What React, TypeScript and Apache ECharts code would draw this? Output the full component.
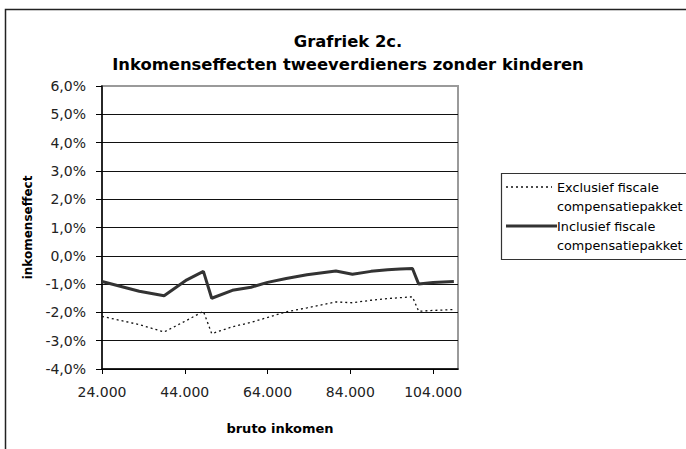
import React, { useEffect, useRef } from "react";
import * as echarts from "echarts";

const titleLines = ["Grafriek 2c.", "Inkomenseffecten tweeverdieners zonder kinderen"];
const xAxisName = "bruto inkomen";
const yAxisName = "inkomenseffect";
const seriesNames = ["Exclusief fiscale\ncompensatiepakket", "Inclusief fiscale\ncompensatiepakket"];

const incomes = [24000, 33000, 39000, 44500, 48500, 50500, 55500, 60000, 64000, 68500, 73500, 80500, 84500, 89000, 93000, 96000, 99000, 100500, 104000, 109000];
const exclusief = [-2.14, -2.43, -2.69, -2.28, -1.96, -2.75, -2.51, -2.35, -2.18, -1.98, -1.84, -1.63, -1.66, -1.57, -1.51, -1.48, -1.45, -1.96, -1.93, -1.90];
const inclusief = [-0.91, -1.25, -1.41, -0.85, -0.55, -1.50, -1.22, -1.11, -0.94, -0.80, -0.67, -0.54, -0.65, -0.55, -0.49, -0.47, -0.45, -1.00, -0.94, -0.91];

const xTicks = [24000, 44000, 64000, 84000, 104000];
const xMin = 24000;
const xMax = 110000;
const yMin = -4;
const yMax = 6;
const yStep = 1;

const FONT = "DejaVu Sans";

function fmtThousands(v: number) {
  return String(Math.round(v)).replace(/\B(?=(\d{3})+(?!\d))/g, ".");
}

export default function App() {
  const ref = useRef<HTMLDivElement>(null);

  useEffect(() => {
    if (!ref.current) return;
    const chart = echarts.init(ref.current, null, { renderer: "svg" });
    const option: any = {
      animation: false,
      backgroundColor: "#ffffff",
      title: {
        text: titleLines.join("\n"),
        left: 343,
        top: 25,
        textAlign: "center",
        textStyle: {
          fontFamily: FONT,
          fontWeight: "bold",
          fontSize: 16.4,
          lineHeight: 23,
          color: "#000",
        },
      },
      grid: {
        left: 102,
        top: 86,
        right: 686 - 458,
        bottom: 449 - 369,
        show: true,
        borderColor: "#9a9a9a",
        borderWidth: 2,
        backgroundColor: "#fff",
      },
      xAxis: {
        type: "value",
        min: xMin,
        max: xMax,
        name: xAxisName,
        nameLocation: "middle",
        nameGap: 53,
        nameTextStyle: { fontFamily: FONT, fontWeight: "bold", fontSize: 13, color: "#000" },
        axisLine: { show: true, onZero: false, lineStyle: { color: "#000", width: 1.5 } },
        axisTick: { show: true, length: 5, customValues: xTicks, lineStyle: { color: "#000" } },
        axisLabel: {
          customValues: xTicks,
          margin: 16,
          fontFamily: FONT,
          fontSize: 14,
          color: "#222",
          formatter: (v: number) => fmtThousands(v),
        },
        splitLine: { show: false },
      },
      yAxis: {
        type: "value",
        min: yMin,
        max: yMax,
        interval: yStep,
        name: yAxisName,
        nameLocation: "middle",
        nameRotate: 90,
        nameGap: 62,
        nameTextStyle: { fontFamily: FONT, fontWeight: "bold", fontSize: 12, color: "#000" },
        axisLine: { show: true, onZero: false, lineStyle: { color: "#000", width: 1.5 } },
        axisTick: { show: true, length: 6, lineStyle: { color: "#000" } },
        axisLabel: {
          margin: 16,
          fontFamily: FONT,
          fontSize: 14,
          color: "#222",
          formatter: (v: number) => v.toFixed(1).replace(".", ",") + "%",
        },
        splitLine: { show: true, showMaxLine: false, lineStyle: { color: "#111", width: 1 } },
      },
      series: [
        {
          name: seriesNames[0],
          type: "line",
          data: incomes.map((x, i) => [x, exclusief[i]]),
          showSymbol: false,
          symbol: "none",
          lineStyle: { color: "#111", width: 1.3, type: [2, 3] },
          z: 3,
        },
        {
          name: seriesNames[1],
          type: "line",
          data: incomes.map((x, i) => [x, inclusief[i]]),
          showSymbol: false,
          symbol: "none",
          lineStyle: { color: "#333", width: 3 },
          z: 4,
        },
      ],
      graphic: [
        {
          type: "rect",
          z: -10,
          silent: true,
          shape: { x: 5.5, y: 9.5, width: 1000, height: 1000 },
          style: { fill: "none", stroke: "#222", lineWidth: 1.5 },
        },
        {
          type: "rect",
          z: 10,
          silent: true,
          shape: { x: 501.5, y: 173.5, width: 300, height: 86 },
          style: { fill: "#fff", stroke: "#333", lineWidth: 1.2 },
        },
        {
          type: "line",
          z: 11,
          silent: true,
          shape: { x1: 506, y1: 187, x2: 552, y2: 187 },
          style: { stroke: "#111", lineWidth: 1.3, lineDash: [2, 3] },
        },
        {
          type: "text",
          z: 11,
          silent: true,
          style: {
            text: seriesNames[0],
            x: 557,
            y: 178,
            fontFamily: FONT,
            fontSize: 12.8,
            lineHeight: 19,
            fill: "#000",
            verticalAlign: "top",
          },
        },
        {
          type: "line",
          z: 11,
          silent: true,
          shape: { x1: 506, y1: 226, x2: 557, y2: 226 },
          style: { stroke: "#333", lineWidth: 3 },
        },
        {
          type: "text",
          z: 11,
          silent: true,
          style: {
            text: seriesNames[1],
            x: 557,
            y: 217,
            fontFamily: FONT,
            fontSize: 12.8,
            lineHeight: 19,
            fill: "#000",
            verticalAlign: "top",
          },
        },
      ],
    };
    chart.setOption(option);
    return () => chart.dispose();
  }, []);

  return (
    <div
      ref={ref}
      style={{ position: "fixed", left: 0, top: 0, width: 686, height: 449, background: "#fff" }}
    />
  );
}
